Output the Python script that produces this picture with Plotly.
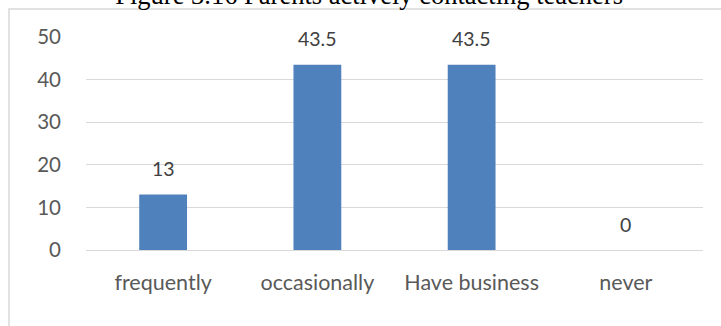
import plotly.graph_objects as go

categories = ["frequently", "occasionally", "Have business", "never"]
values = [13, 43.5, 43.5, 0]
value_labels = ["13", "43.5", "43.5", "0"]
y_ticks = [0, 10, 20, 30, 40, 50]
title_text = "Figure 3.16 Parents actively contacting teachers"

W, H = 721, 326
L, R, T, B = 86, 18, 37, 76
pw, ph = W - L - R, H - T - B

fig = go.Figure()
fig.add_trace(go.Bar(
    x=categories, y=values, marker=dict(color="#4F81BD", line=dict(width=0)),
    width=0.31, hoverinfo="skip",
))

for c, v, t in zip(categories, values, value_labels):
    fig.add_annotation(x=c, y=v, text=t, showarrow=False, yanchor="middle",
                       yshift=26, font=dict(family="Lato", size=19.5, color="#404040"))

# outer frame (chart area border)
fx0 = (9 - L) / pw
fy1 = 1 + (T - 9) / ph
fig.add_shape(type="rect", xref="paper", yref="paper", x0=fx0, x1=1 + (R + 10) / pw,
              y0=-(B + 10) / ph, y1=fy1, line=dict(color="#D9D9D9", width=1.5), layer="below")

fig.update_layout(
    width=W, height=H, margin=dict(l=L, r=R, t=T, b=B),
    paper_bgcolor="white", plot_bgcolor="white",
    showlegend=False,
    title=dict(text=title_text, x=0.512, xanchor="center", y=1 - 4 / H, yanchor="bottom",
               yref="container",
               font=dict(family="Liberation Serif", size=26.5, color="black")),
    xaxis=dict(showgrid=False, showline=False, zeroline=False, ticks="",
               ticklabelstandoff=17,
               tickfont=dict(family="Lato", size=21.5, color="#595959")),
    yaxis=dict(range=[0, 50], tickvals=y_ticks, showgrid=True, gridcolor="#D9D9D9",
               gridwidth=1.3, zeroline=True, zerolinecolor="#D9D9D9", zerolinewidth=1.3,
               showline=False, ticks="", ticklabelstandoff=24,
               tickfont=dict(family="Lato", size=20.5, color="#595959")),
    font=dict(family="Lato"),
)

fig.write_html("out.html")
